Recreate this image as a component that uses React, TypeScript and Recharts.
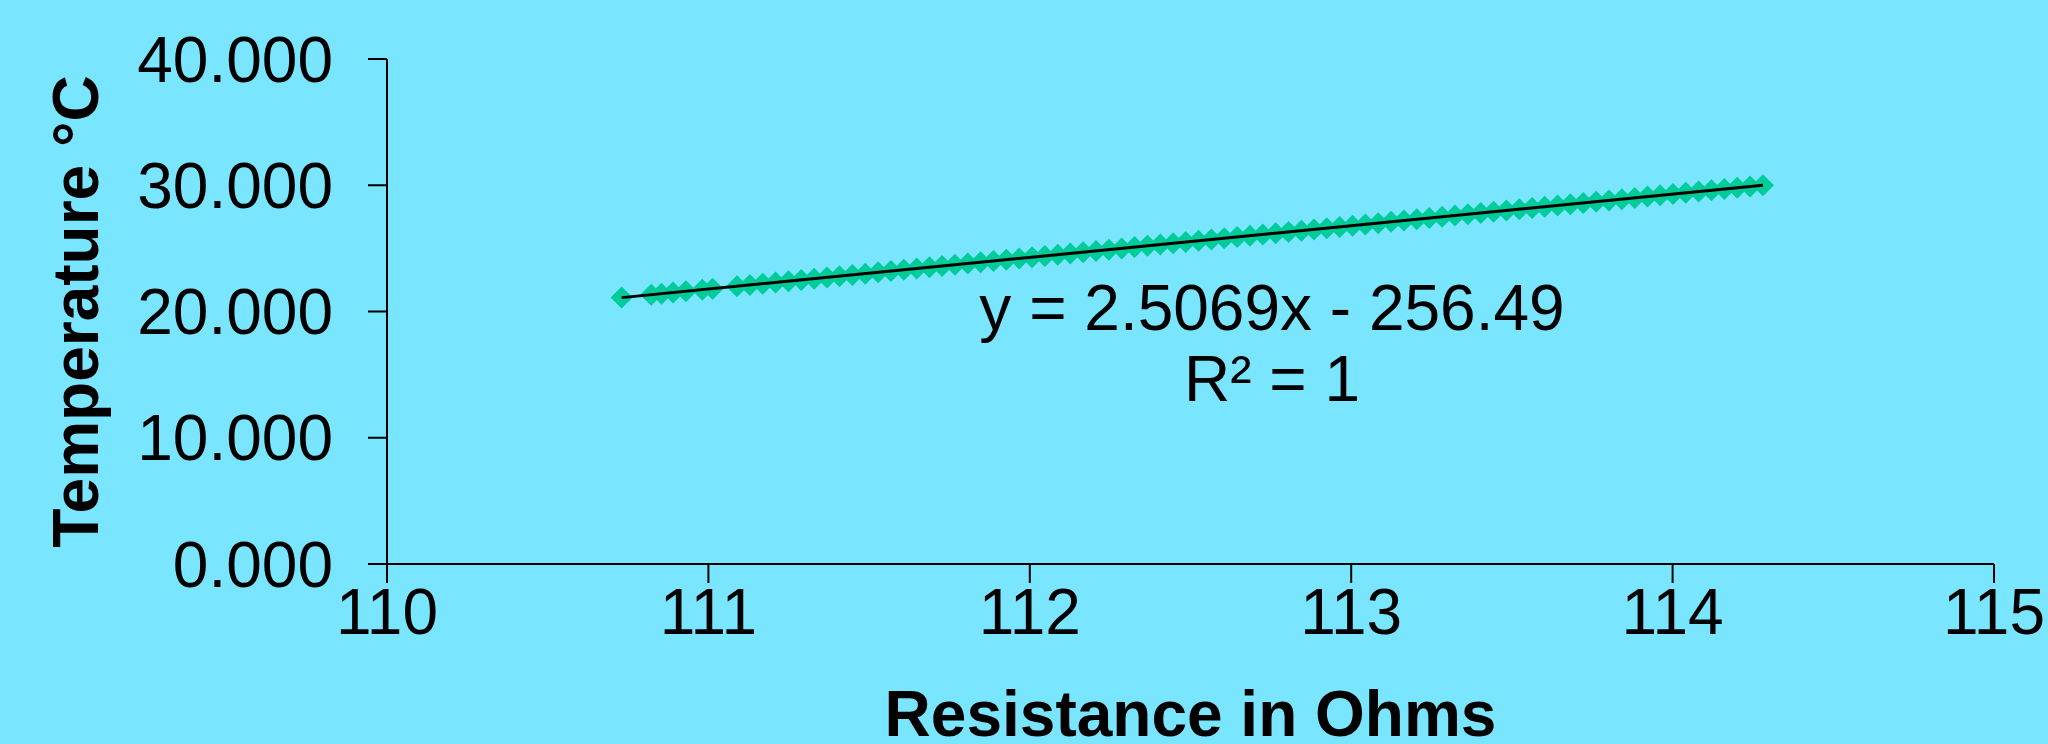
import React from 'react';
import { ScatterChart, Scatter, XAxis, YAxis } from 'recharts';

// measured points: resistance (ohms) vs temperature (°C)
const resistance = [
  110.73, 110.822, 110.854, 110.89, 110.93, 110.981, 111.013,
  111.089, 111.129, 111.169, 111.209, 111.249, 111.289, 111.329, 111.369, 111.408, 111.448,
  111.488, 111.528, 111.568, 111.608, 111.648, 111.688, 111.727, 111.767, 111.807, 111.847,
  111.887, 111.927, 111.967, 112.007, 112.047, 112.087, 112.126, 112.166, 112.206, 112.246,
  112.286, 112.326, 112.366, 112.406, 112.446, 112.485, 112.525, 112.565, 112.605, 112.645,
  112.685, 112.725, 112.765, 112.805, 112.845, 112.884, 112.924, 112.964, 113.004, 113.044,
  113.084, 113.124, 113.164, 113.204, 113.243, 113.283, 113.323, 113.363, 113.403, 113.443,
  113.483, 113.523, 113.563, 113.602, 113.642, 113.682, 113.722, 113.762, 113.802, 113.842,
  113.882, 113.922, 113.961, 114.001, 114.041, 114.081, 114.121, 114.161, 114.201, 114.241,
  114.281,
];
const temperature = [
  21.1, 21.33, 21.41, 21.5, 21.6, 21.73, 21.81,
  22.0, 22.1, 22.2, 22.3, 22.4, 22.5, 22.6, 22.7, 22.8, 22.9,
  23.0, 23.1, 23.2, 23.3, 23.4, 23.5, 23.6, 23.7, 23.8, 23.9,
  24.0, 24.1, 24.2, 24.3, 24.4, 24.5, 24.6, 24.7, 24.8, 24.9,
  25.0, 25.1, 25.2, 25.3, 25.4, 25.5, 25.6, 25.7, 25.8, 25.9,
  26.0, 26.1, 26.2, 26.3, 26.4, 26.5, 26.6, 26.7, 26.8, 26.9,
  27.0, 27.1, 27.2, 27.3, 27.4, 27.5, 27.6, 27.7, 27.8, 27.9,
  28.0, 28.1, 28.2, 28.3, 28.4, 28.5, 28.6, 28.7, 28.8, 28.9,
  29.0, 29.1, 29.2, 29.3, 29.4, 29.5, 29.6, 29.7, 29.8, 29.9,
  30.0,
];

const xTicks = [110, 111, 112, 113, 114, 115];
const yTicks = [0, 10, 20, 30, 40];

// linear trendline (Excel)
const fitSlope = 2.5069;
const fitIntercept = -256.49;
const fitSpan = [110.73, 114.281];

const data = resistance.map((r, i) => ({ r, t: temperature[i] }));
const trend = fitSpan.map((r) => ({ r, t: fitSlope * r + fitIntercept }));

const FONT = '"Liberation Sans", Arial, sans-serif';
const BG = '#79E5FF';
const MARKER = '#00CC99';

const Diamond = (props: any) => {
  const { cx, cy } = props;
  const h = 11;
  return (
    <polygon
      points={`${cx},${cy - h} ${cx + h},${cy} ${cx},${cy + h} ${cx - h},${cy}`}
      fill={MARKER}
    />
  );
};

const NoDot = () => <g />;

const yTitle = (props: any) => {
  const vb = props.viewBox;
  const cy = vb.y + vb.height / 2;
  return (
    <text
      x={98}
      y={cy}
      transform={`rotate(-90, 98, ${cy})`}
      textAnchor="middle"
      fontFamily={FONT}
      fontSize={64}
      fontWeight="bold"
      fill="#000"
    >
      Temperature °C
    </text>
  );
};

const xTitle = (props: any) => {
  const vb = props.viewBox;
  return (
    <text
      x={vb.x + vb.width / 2}
      y={736}
      textAnchor="middle"
      fontFamily={FONT}
      fontSize={64}
      fontWeight="bold"
      fill="#000"
    >
      Resistance in Ohms
    </text>
  );
};

export default function App() {
  const tickStyle = { fontFamily: FONT, fontSize: 64, fill: '#000' };
  return (
    <div style={{ position: 'absolute', left: 0, top: 0, width: 2048, height: 744, background: BG }}>
      <ScatterChart width={2048} height={744} margin={{ top: 59, right: 54, bottom: 0, left: 0 }}>
        <XAxis
          type="number"
          dataKey="r"
          domain={[110, 115]}
          ticks={xTicks}
          allowDataOverflow
          height={180}
          tickSize={19}
          tickMargin={6}
          tick={tickStyle}
          axisLine={{ stroke: '#000', strokeWidth: 2 }}
          tickLine={{ stroke: '#000', strokeWidth: 2 }}
          label={xTitle}
        />
        <YAxis
          type="number"
          dataKey="t"
          domain={[0, 40]}
          ticks={yTicks}
          width={387}
          tickSize={19}
          tickMargin={35}
          tick={tickStyle}
          tickFormatter={(v: number) => v.toFixed(3)}
          axisLine={{ stroke: '#000', strokeWidth: 2 }}
          tickLine={{ stroke: '#000', strokeWidth: 2 }}
          label={yTitle}
        />
        <Scatter data={data} shape={<Diamond />} isAnimationActive={false} />
        <Scatter
          data={trend}
          line={{ stroke: '#000', strokeWidth: 3 }}
          shape={<NoDot />}
          isAnimationActive={false}
        />
      </ScatterChart>
      <svg
        width={2048}
        height={744}
        style={{ position: 'absolute', left: 0, top: 0, pointerEvents: 'none' }}
      >
        <text x={1272} y={330} textAnchor="middle" fontFamily={FONT} fontSize={64} fill="#000">
          y = 2.5069x - 256.49
        </text>
        <text x={1272} y={401} textAnchor="middle" fontFamily={FONT} fontSize={64} fill="#000">
          R² = 1
        </text>
      </svg>
    </div>
  );
}
